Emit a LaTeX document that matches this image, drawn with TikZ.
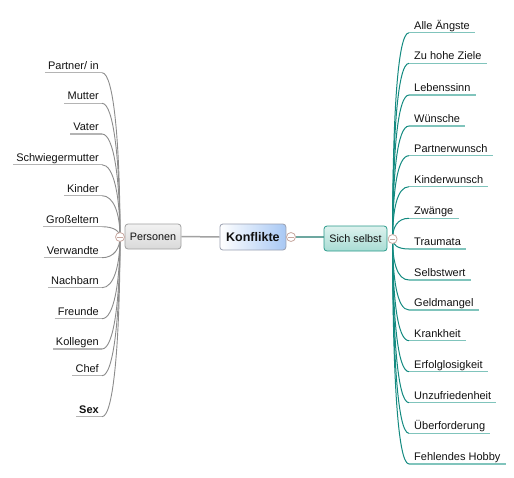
\documentclass[tikz,border=0pt]{standalone}
\usepackage{fontspec}
\setmainfont{Liberation Sans}
\usetikzlibrary{backgrounds}
\definecolor{txt}{HTML}{111111}
\definecolor{lline}{HTML}{8C8C8C}
\definecolor{luline}{HTML}{B4B4B4}
\definecolor{rline}{HTML}{138A80}
\definecolor{ruline}{HTML}{80C4BC}
\definecolor{circb}{HTML}{C8A8A0}
\definecolor{kbord}{HTML}{9AA0B0}
\definecolor{kblue}{HTML}{A8C8F4}
\definecolor{pbord}{HTML}{A0A0A0}
\definecolor{sbord}{HTML}{2A9A8A}
\definecolor{sfillA}{HTML}{DDF2EE}
\definecolor{sfillB}{HTML}{A8DCD4}
\tikzset{
  leaffont/.style={font=\fontsize{11}{13}\selectfont, text=txt, text depth=0pt},
  lleaf/.style={leaffont, anchor=south east, inner xsep=3pt, inner ysep=3.5pt},
  rleaf/.style={leaffont, anchor=south west, inner xsep=5pt, inner ysep=3.5pt},
  lcurve/.style={draw=lline, line width=0.9pt},
  rcurve/.style={draw=rline, line width=1pt},
  lul/.style={draw=luline, line width=1.5pt},
  rul/.style={draw=ruline, line width=1.5pt},
  collapse/.style={circle, draw=circb, fill=white, line width=0.8pt, minimum size=9pt, inner sep=0pt,
    path picture={\draw[circb, line width=0.8pt] ([xshift=-2.6pt]path picture bounding box.center) -- ([xshift=2.6pt]path picture bounding box.center);}},
  mainbox/.style={rounded corners=3pt, draw=kbord, line width=0.8pt, left color=white, right color=kblue,
    minimum width=66pt, minimum height=26pt, inner sep=0pt, font=\bfseries\fontsize{12.5}{14}\selectfont, text=txt},
  persbox/.style={rounded corners=3pt, draw=pbord, line width=0.8pt, top color=gray!10, bottom color=gray!30,
    minimum width=56pt, minimum height=25pt, inner sep=0pt, font=\fontsize{10.8}{13}\selectfont, text=txt},
  selbbox/.style={rounded corners=3pt, draw=sbord, line width=0.8pt, top color=sfillA, bottom color=sfillB,
    minimum width=63pt, minimum height=25pt, inner sep=0pt, font=\fontsize{10.8}{13}\selectfont, text=txt},
}
\begin{document}
\begin{tikzpicture}[x=1pt, y=-1pt]
\useasboundingbox (0,0) rectangle (514,477);
% central nodes
\node[mainbox] (konf) at (252.9,237) {Konflikte};
\node[persbox] (pers) at (153,236.5) {Personen};
\node[selbbox] (selb) at (355.5,238.5) {Sich selbst};
\node[collapse] (cK) at (291,237) {};
\node[collapse] (cP) at (120,237) {};
\node[collapse] (cS) at (392.6,239) {};
\begin{pgfonlayer}{background}
\draw[draw=luline!90!black, line width=1.5pt] (pers.east) -- (konf.west);
\draw[draw=ruline!85!black, line width=1.5pt] (cK) -- (cK -| selb.west);
\end{pgfonlayer}
% left leaves
\foreach \txt/\u [count=\i] in {{Partner/ in}/72.7, Mutter/103.3, Vater/134, Schwiegermutter/164.7, Kinder/195.7, Großeltern/226.7, Verwandte/257.7, Nachbarn/287.7, Freunde/318.7, Kollegen/349, Chef/375.7, {\textbf{Sex}}/416.7}{
  \node[lleaf] (L\i) at (102,\u) {\txt};
  \pgfmathsetmacro\d{0.55*(\u-237)}
  \begin{pgfonlayer}{background}
  \draw[lul] (L\i.south west) -- (L\i.south east);
  \draw[lcurve] (L\i.south east) .. controls +(12,0) and +(0,\d) .. (cP.center);
  \end{pgfonlayer}
}
% right leaves
\foreach \txt/\u [count=\i] in {Alle Ängste/32.7, Zu hohe Ziele/63.3, Lebenssinn/95, Wünsche/126, Partnerwunsch/155.7, Kinderwunsch/186.7, Zwänge/218.3, Traumata/249, Selbstwert/280, Geldmangel/310, Krankheit/340.7, Erfolglosigkeit/371.7, Unzufriedenheit/402.7, Überforderung/433.3, Fehlendes Hobby/464}{
  \node[rleaf] (R\i) at (409,\u) {\txt};
  \pgfmathsetmacro\d{0.55*(\u-239)}
  \begin{pgfonlayer}{background}
  \draw[rul] (R\i.south west) -- (R\i.south east);
  \draw[rcurve] (R\i.south west) .. controls +(-12,0) and +(0,\d) .. (cS.center);
  \end{pgfonlayer}
}
\end{tikzpicture}
\end{document}
